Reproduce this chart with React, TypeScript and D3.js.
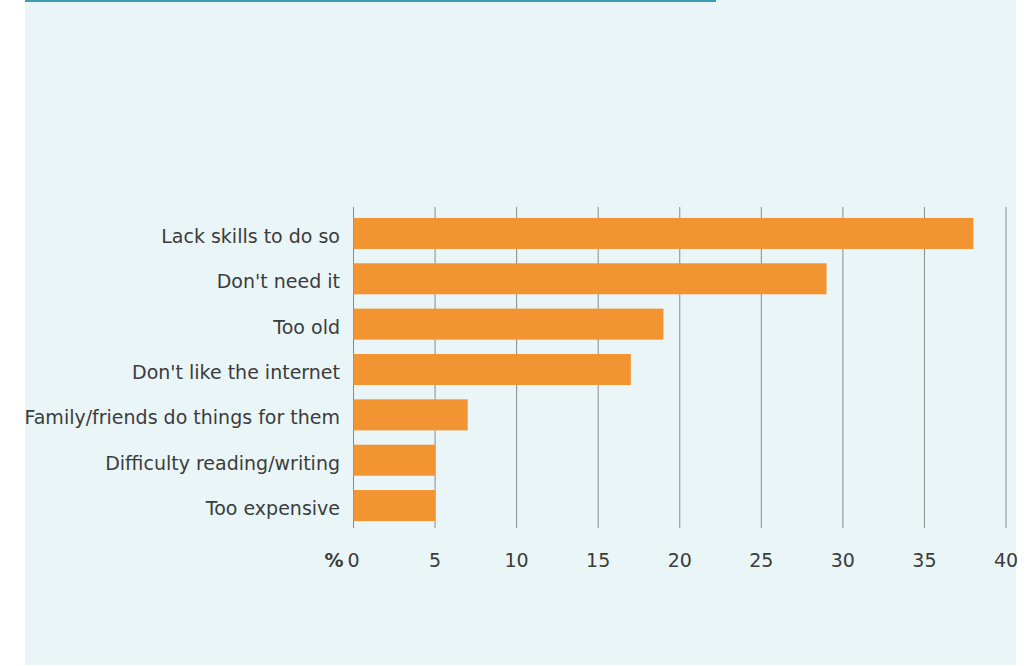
import React from "react";
import * as d3 from "d3";

const categories = [
  "Lack skills to do so",
  "Don't need it",
  "Too old",
  "Don't like the internet",
  "Family/friends do things for them",
  "Difficulty reading/writing",
  "Too expensive",
];
const values = [38, 29, 19, 17, 7, 5, 5];
const ticks = [0, 5, 10, 15, 20, 25, 30, 35, 40];

export default function App() {
  const x = d3.scaleLinear().domain([0, 40]).range([353.5, 1006]);
  const y = d3
    .scaleBand<string>()
    .domain(categories)
    .range([207.5, 531.5])
    .paddingInner(0.316)
    .paddingOuter(0.23);
  const font = "'DejaVu Sans', Verdana, sans-serif";
  return (
    <svg
      width={1031}
      height={666}
      style={{ position: "absolute", left: 0, top: 0 }}
    >
      <rect x={25} y={0} width={991} height={665} fill="#e9f5f7" />
      <line x1={25} x2={716} y1={1} y2={1} stroke="#3d9db3" strokeWidth={2} />
      {ticks.map((t) => (
        <line
          key={t}
          x1={x(t)}
          x2={x(t)}
          y1={207}
          y2={528}
          stroke="#8a8a8a"
          strokeWidth={1}
        />
      ))}
      {categories.map((c, i) => (
        <rect
          key={c}
          x={x(0)}
          y={y(c)}
          width={x(values[i]) - x(0)}
          height={y.bandwidth()}
          fill="#f39433"
        />
      ))}
      {categories.map((c) => (
        <text
          key={c}
          x={340}
          y={(y(c) ?? 0) + y.bandwidth() / 2}
          dy="0.5em"
          textAnchor="end"
          fontFamily={font}
          fontSize={19}
          fill="#3c3c3c"
        >
          {c}
        </text>
      ))}
      {ticks.map((t) => (
        <text
          key={t}
          x={x(t)}
          y={560}
          dy="0.37em"
          textAnchor="middle"
          fontFamily={font}
          fontSize={19}
          fill="#3c3c3c"
        >
          {t}
        </text>
      ))}
      <text
        x={x(0) - 10}
        y={560}
        dy="0.37em"
        textAnchor="end"
        fontFamily={font}
        fontSize={19}
        fontWeight="bold"
        fill="#3c3c3c"
      >
        %
      </text>
    </svg>
  );
}
